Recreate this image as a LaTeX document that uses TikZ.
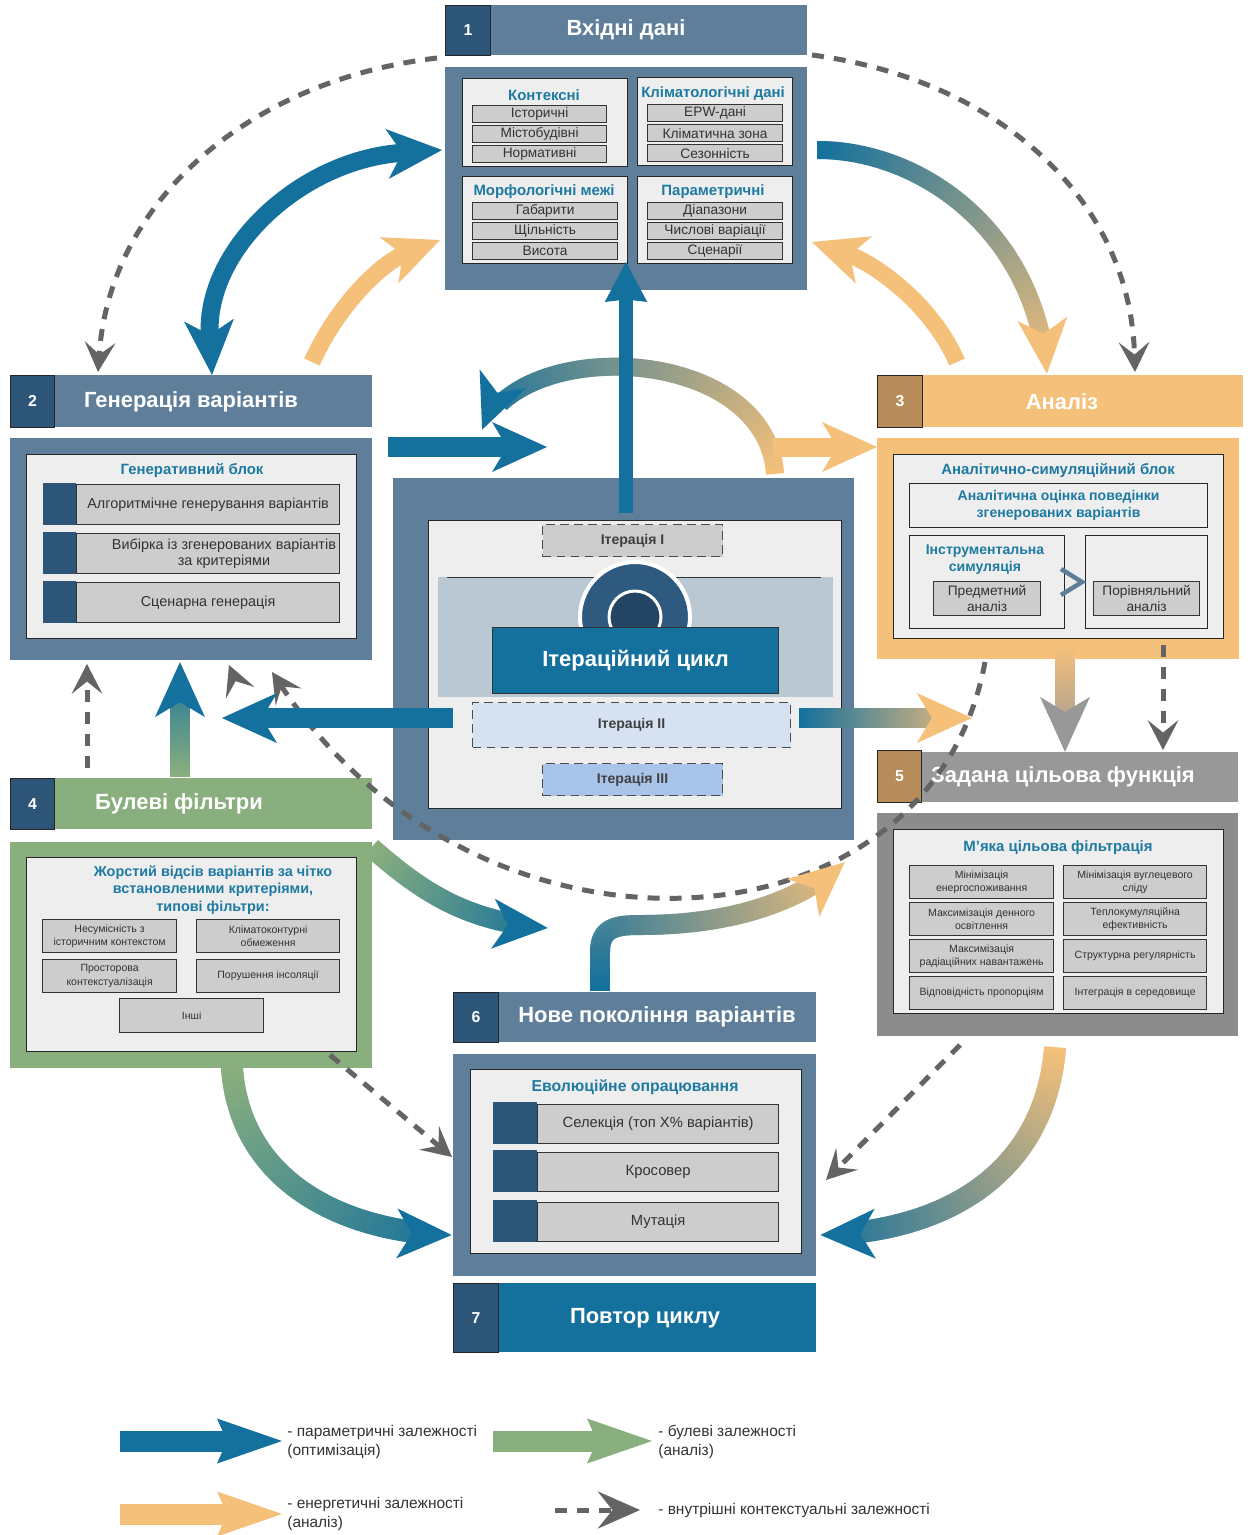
\documentclass[tikz,border=0pt]{standalone}
\usepackage{fontspec}
\setmainfont{Liberation Sans}
\usetikzlibrary{arrows.meta, decorations.markings}
\definecolor{steel}{RGB}{94,126,154}
\definecolor{navybox}{RGB}{45,85,120}
\definecolor{tealblue}{RGB}{20,112,156}
\definecolor{eorange}{RGB}{245,192,122}
\definecolor{tanbox}{RGB}{184,140,90}
\definecolor{bgreen}{RGB}{138,175,126}
\definecolor{fgray}{RGB}{152,152,152}
\definecolor{panelgray}{RGB}{238,238,238}
\definecolor{itemgray}{RGB}{205,205,205}
\definecolor{titleblue}{RGB}{30,122,162}
\definecolor{bandgray}{RGB}{186,200,212}
\definecolor{iterone}{RGB}{204,204,204}
\definecolor{itertwo}{RGB}{214,226,242}
\definecolor{iterthree}{RGB}{168,196,232}
\definecolor{ringdark}{RGB}{45,90,126}
\definecolor{coredark}{RGB}{35,68,98}
\definecolor{dashgray}{RGB}{100,100,100}
\tikzset{
  sz/.style 2 args={minimum width=#1*0.02cm, minimum height=#2*0.02cm},
  bar/.style={rectangle, inner sep=0pt, anchor=north west},
  numbox/.style={bar, draw=black!85, line width=0.5pt, text=white,
    font=\bfseries\fontsize{9}{9}\selectfont},
  hdrtext/.style={text=white, font=\bfseries\fontsize{12.5}{13}\selectfont},
  panel/.style={bar, draw=black!85, line width=0.7pt, fill=panelgray,
    text=titleblue, align=center, font=\bfseries\fontsize{8}{9.6}\selectfont},
  item/.style={bar, draw=black!80, line width=0.7pt, fill=itemgray, align=center,
    text=black!80, font=\fontsize{7.8}{9.2}\selectfont},
  smallitem/.style={item, font=\fontsize{6}{7.6}\selectfont},
  ptitle/.style={text=titleblue, align=center, font=\bfseries\fontsize{8.5}{9.6}\selectfont},
  sqr/.style={bar, fill=navybox},
  iterbox/.style={bar, draw=black!70, line width=0.6pt, dash pattern=on 5pt off 3pt,
    text=black!75, font=\bfseries\fontsize{8}{9}\selectfont},
  legend/.style={anchor=west, align=left, inner sep=0pt, text=black!80, font=\fontsize{8.8}{10.8}\selectfont},
  ptip/.tip={Stealth[length=1.1cm, width=1cm, inset=0.3cm, line width=0pt]},
  ltip/.tip={Stealth[length=1.3cm, width=0.9cm, inset=0.2cm, line width=0pt]},
  dtip/.tip={Stealth[length=0.6cm, width=0.62cm, inset=0.25cm, line width=0pt]},
  parrow/.style={draw=tealblue, line width=0.38cm, -ptip},
  earrow/.style={draw=eorange, line width=0.34cm, -ptip},
  dasharrow/.style={draw=dashgray, line width=0.1cm, dash pattern=on 0.24cm off 0.2cm, -dtip},
  gradarrow/.style n args={3}{
    postaction={decorate, decoration={markings,
      mark=between positions 0 and -20pt step 0.7pt with {
        \pgfmathtruncatemacro\gp{(\pgfkeysvalueof{/pgf/decoration/mark info/distance from start}/\pgfdecoratedpathlength)*100}
        \fill[#2!\gp!#1] (-0.5pt,-#3) rectangle (0.5pt,#3);}}},
    postaction={decorate, decoration={markings,
      mark=at position 0.999 with {\fill[#2] (0,0) -- (-1.1cm,0.5cm) -- (-0.8cm,0) -- (-1.1cm,-0.5cm) -- cycle;}}}
  }
}
\begin{document}
\begin{tikzpicture}[x=0.02cm, y=-0.02cm]
  \fill[white] (0,0) rectangle (1250,1535);
  \useasboundingbox (0,0) rectangle (1250,1535);

  % 1 - inputs
  \node[bar, fill=steel, sz={362}{50}] (h1) at (445,5) {};
  \node[numbox, fill=navybox, sz={45}{50}] (n1) at (445,5) {1};
  \node[hdrtext] (t1) at (626,30) {Вхідні дані};
  \node[bar, fill=steel, sz={362}{223}] (b1) at (445,67) {};
  \node[panel, sz={165}{88}] (p11) at (462,78) {};
  \node[panel, sz={155}{88}] (p12) at (637,77) {};
  \node[panel, sz={165}{87}] (p13) at (462,176) {};
  \node[panel, sz={155}{87}] (p14) at (637,176) {};
  \node[ptitle] (p11t) at (544,95) {Контексні};
  \node[ptitle] (p12t) at (713,94) {Кліматологічні дані};
  \node[ptitle] (p13t) at (544,192) {Морфологічні межі};
  \node[ptitle] (p14t) at (713,192) {Параметричні};
  \foreach \txt [count=\i] in {Історичні, Містобудівні, Нормативні}
    \node[item, sz={134}{17}] (k\i) at (472,{105+20*(\i-1)}) {\txt};
  \foreach \txt [count=\i] in {EPW-дані, Кліматична зона, Сезонність}
    \node[item, sz={135}{17}] (c\i) at (647,{104+20*(\i-1)}) {\txt};
  \foreach \txt [count=\i] in {Габарити, Щільність, Висота}
    \node[item, sz={145}{17}] (m\i) at (472,{202+20*(\i-1)}) {\txt};
  \foreach \txt [count=\i] in {Діапазони, Числові варіації, Сценарії}
    \node[item, sz={135}{17}] (r\i) at (647,{202+20*(\i-1)}) {\txt};

  % 2 - generation
  \node[bar, fill=steel, sz={362}{52}] (h2) at (10,375) {};
  \node[numbox, fill=navybox, sz={44}{52}] (n2) at (10,375) {2};
  \node[hdrtext] (t2) at (191,402) {Генерація варіантів};
  \node[bar, fill=steel, sz={362}{222}] (b2) at (10,438) {};
  \node[panel, sz={330}{184}] (p2) at (26,454) {};
  \node[ptitle] (p2t) at (192,470) {Генеративний блок};
  \foreach \txt [count=\i] in {Алгоритмічне генерування варіантів,
      {\hspace*{2.2em}Вибірка із згенерованих варіантів\\\hspace*{2.2em}за критеріями}, Сценарна генерація} {
    \node[item, sz={263}{40}, font=\fontsize{8.2}{9.4}\selectfont] (g\i) at (76,{484+49*(\i-1)}) {\txt};
    \node[sqr, sz={33}{42}] (gs\i) at (43,{483+49*(\i-1)}) {};
  }

  % 3 - analysis
  \node[bar, fill=eorange, sz={366}{52}] (h3) at (877,375) {};
  \node[numbox, fill=tanbox, sz={45}{52}] (n3) at (877,375) {3};
  \node[hdrtext] (t3) at (1062,402) {Аналіз};
  \node[bar, fill=eorange, sz={362}{221}] (b3) at (877,438) {};
  \node[panel, sz={330}{184}] (p3) at (893,454) {};
  \node[ptitle] (p3t) at (1058,470) {Аналітично-симуляційний блок};
  \node[panel, sz={298}{44}] (p3a) at (909,483) {Аналітична оцінка поведінки\\згенерованих варіантів};
  \node[panel, sz={155}{93}] (p3b) at (909,535) {};
  \node[ptitle, font=\bfseries\fontsize{8}{9.6}\selectfont] (p3bt) at (985,560) {Інструментальна\\симуляція};
  \node[item, sz={107}{34}] (p3b1) at (933,581) {Предметний\\аналіз};
  \node[panel, sz={122}{93}] (p3c) at (1085,535) {};
  \node[item, sz={106}{34}] (p3c1) at (1093,581) {Порівняльний\\аналіз};
  \draw[steel, line width=0.09cm] (1061,569) -- (1082,582) -- (1061,595);

  % centre - iteration cycle
  \node[bar, fill=steel, sz={461}{362}] (cb) at (393,478) {};
  \node[panel, sz={413}{288}] (cp) at (428,520) {};
  \node[iterbox, fill=iterone, sz={180}{32}] (it1) at (542,524) {Ітерація I};
  \node[bar, fill=bandgray, sz={395}{120}] (band) at (438,577) {};
  \draw[black!80, line width=0.5pt] (447,577) -- (821,577);
  \node[circle, fill=ringdark, draw=white, line width=0.08cm, minimum size=2.2cm, inner sep=0pt] (ring) at (635,617) {};
  \node[circle, fill=coredark, draw=white, line width=0.06cm, minimum size=1.04cm, inner sep=0pt] (core) at (635,617) {};
  \node[bar, fill=tealblue, draw=black!80, line width=0.6pt, sz={286}{66}, text=white,
    font=\bfseries\fontsize{12.5}{13}\selectfont] (cyc) at (492,627) {Ітераційний цикл};
  \node[iterbox, fill=itertwo, sz={318}{45}] (it2) at (472,702) {Ітерація II};
  \node[iterbox, fill=iterthree, sz={180}{32}] (it3) at (542,763) {Ітерація III};

  % 4 - boolean filters
  \node[bar, fill=bgreen, sz={362}{51}] (h4) at (10,778) {};
  \node[numbox, fill=navybox, sz={44}{51}] (n4) at (10,778) {4};
  \node[hdrtext] (t4) at (179,804) {Булеві фільтри};
  \node[bar, fill=bgreen, sz={362}{226}] (b4) at (10,842) {};
  \node[panel, sz={330}{194}] (p4) at (26,857) {};
  \node[ptitle, font=\bfseries\fontsize{8.2}{10}\selectfont] (p4t) at (213,890)
    {Жорстий відсів варіантів за чітко\\встановленими критеріями,\\типові фільтри:};
  \node[smallitem, sz={134}{33}] (f1) at (42,919) {Несумісність з\\історичним контекстом};
  \node[smallitem, sz={143}{33}] (f2) at (196,919) {Кліматоконтурні\\обмеження};
  \node[smallitem, sz={134}{33}] (f3) at (42,959) {Просторова\\контекстуалізація};
  \node[smallitem, sz={143}{33}] (f4) at (196,959) {Порушення інсоляції};
  \node[smallitem, sz={144}{34}] (f5) at (119,998) {Інші};

  % 5 - objective function
  \node[bar, fill=fgray, sz={361}{50}] (h5) at (877,752) {};
  \node[numbox, fill=tanbox, sz={44}{52}] (n5) at (877,750) {5};
  \node[hdrtext] (t5) at (1063,777) {Задана цільова функція};
  \node[bar, fill=fgray!92!black, sz={361}{223}] (b5) at (877,813) {};
  \node[panel, sz={330}{184}] (p5) at (893,829) {};
  \node[ptitle] (p5t) at (1058,848) {М\char39 яка цільова фільтрація};
  \foreach \lt/\rt [count=\i] in {
      {Мінімізація\\енергоспоживання}/{Мінімізація вуглецевого\\сліду},
      {Максимізація денного\\освітлення}/{Теплокумуляційна\\ефективність},
      {Максимізація\\радіаційних навантажень}/{Структурна регулярність},
      {Відповідність пропорціям}/{Інтеграція в середовище}} {
    \node[smallitem, sz={144}{33}] (sl\i) at (909,{865+37*(\i-1)}) {\lt};
    \node[smallitem, sz={143}{33}] (sr\i) at (1063,{865+37*(\i-1)}) {\rt};
  }

  % 6 - new generation
  \node[bar, fill=steel, sz={363}{50}] (h6) at (453,992) {};
  \node[numbox, fill=navybox, sz={45}{50}] (n6) at (453,992) {6};
  \node[hdrtext] (t6) at (657,1017) {Нове покоління варіантів};
  \node[bar, fill=steel, sz={363}{222}] (b6) at (453,1054) {};
  \node[panel, sz={331}{184}] (p6) at (470,1069) {};
  \node[ptitle, font=\bfseries\fontsize{9}{10}\selectfont] (p6t) at (635,1087) {Еволюційне опрацювання};
  \foreach \txt/\yy [count=\i] in {Селекція (топ X\% варіантів)/1102, Кросовер/1150, Мутація/1200} {
    \node[item, sz={241}{39}, font=\fontsize{8.4}{9.4}\selectfont] (e\i) at (537,\yy+2) {\txt};
    \node[sqr, sz={44}{42}] (es\i) at (493,\yy) {};
  }

  % 7 - repeat
  \node[bar, fill=tealblue, sz={363}{69}] (h7) at (453,1283) {};
  \node[numbox, fill=navybox, sz={45}{69}] (n7) at (453,1283) {7};
  \node[hdrtext] (t7) at (645,1318) {Повтор циклу};

  % connector ends
  \coordinate (a1) at (437,58);    \coordinate (a2) at (98,372);
  \coordinate (b1s) at (812,55);   \coordinate (b1e) at (1135,372);
  \coordinate (c1) at (212,375);   \coordinate (c2) at (442,150);
  \coordinate (d1) at (312,362);   \coordinate (d2) at (440,240);
  \coordinate (e1) at (818,150);   \coordinate (e2) at (1047,374);
  \coordinate (f1s) at (957,362);  \coordinate (f1e) at (812,242);
  \coordinate (g1) at (626,513);   \coordinate (g2) at (626,262);
  \coordinate (h1s) at (388,447);  \coordinate (h1e) at (547,447);
  \coordinate (i1) at (775,473);   \coordinate (i2) at (482,430);
  \coordinate (j1) at (773,447);   \coordinate (j2) at (877,447);
  \coordinate (k1s) at (453,718);  \coordinate (k1e) at (222,718);
  \coordinate (l1) at (800,718);   \coordinate (l2) at (972,718);
  \coordinate (m1s) at (985,662);  \coordinate (m1e) at (272,672);
  \coordinate (m2s) at (248,712);  \coordinate (m2e) at (229,665);
  \coordinate (n1s) at (87,768);   \coordinate (n1e) at (87,664);
  \coordinate (o1) at (180,776);   \coordinate (o2) at (180,662);
  \coordinate (q1) at (1065,645);  \coordinate (q2) at (1065,752);
  \coordinate (r1s) at (1163,645); \coordinate (r1e) at (1163,750);
  \coordinate (s1) at (372,848);   \coordinate (s2) at (548,928);
  \coordinate (u1) at (600,990);   \coordinate (u2) at (845,862);
  \coordinate (v1) at (232,1068);  \coordinate (v2) at (452,1235);
  \coordinate (w1) at (1055,1048); \coordinate (w2) at (820,1235);
  \coordinate (x1) at (330,1055);  \coordinate (x2) at (452,1157);
  \coordinate (y1) at (960,1045);  \coordinate (y2) at (826,1180);

  % dashed context links
  \draw[dasharrow] (a1) .. controls (250,80) and (110,200) .. (a2);
  \draw[dasharrow] (b1s) .. controls (1000,80) and (1130,200) .. (b1e);
  \draw[dasharrow] (m1s) .. controls (930,960) and (480,985) .. (m1e);
  \draw[dasharrow, dash pattern=on 0pt off 2cm] (m2s) -- (m2e);
  \draw[dasharrow] (n1s) -- (n1e);
  \draw[dasharrow] (r1s) -- (r1e);
  \draw[dasharrow] (x1) -- (x2);
  \draw[dasharrow] (y1) -- (y2);

  % parametric and energy links
  \draw[parrow, line width=0.36cm, ptip-ptip] (c1) .. controls (205,250) and (300,160) .. (c2);
  \draw[earrow] (d1) .. controls (340,300) and (385,262) .. (d2);
  \path[gradarrow={tealblue}{eorange}{0.18cm}] (e1) .. controls (920,150) and (1035,230) .. (e2);
  \draw[earrow] (f1s) .. controls (930,300) and (870,262) .. (f1e);
  \path[gradarrow={eorange}{tealblue}{0.18cm}] (i1) .. controls (765,345) and (520,335) .. (i2);
  \draw[parrow, line width=0.28cm, -{Stealth[length=0.8cm, width=0.85cm, inset=0.05cm, line width=0pt]}] (g1) -- (g2);
  \draw[parrow, line width=0.4cm] (h1s) -- (h1e);
  \draw[earrow, line width=0.38cm] (j1) -- (j2);
  \draw[parrow, line width=0.4cm] (k1s) -- (k1e);
  \path[gradarrow={tealblue}{eorange}{0.2cm}] (l1) -- (l2);
  \path[gradarrow={bgreen}{tealblue}{0.2cm}] (o1) -- (o2);
  \path[gradarrow={eorange}{fgray}{0.2cm}] (q1) -- (q2);
  \path[gradarrow={bgreen}{tealblue}{0.2cm}] (s1) .. controls (425,895) and (470,922) .. (s2);
  \path[gradarrow={tealblue}{eorange}{0.2cm}] (u1) -- (600,952) .. controls (600,928) and (615,925) .. (640,925)
    .. controls (725,925) and (795,905) .. (u2);
  \path[gradarrow={bgreen}{tealblue}{0.22cm}] (v1) .. controls (240,1180) and (340,1232) .. (v2);
  \path[gradarrow={eorange}{tealblue}{0.22cm}] (w1) .. controls (1045,1170) and (950,1232) .. (w2);

  % legend
  \coordinate (lg1s) at (120,1441); \coordinate (lg1e) at (282,1441);
  \coordinate (lg2s) at (493,1441); \coordinate (lg2e) at (652,1441);
  \coordinate (lg3s) at (120,1514); \coordinate (lg3e) at (282,1514);
  \coordinate (lg4s) at (555,1510); \coordinate (lg4e) at (640,1510);
  \draw[draw=tealblue, line width=0.42cm, -ltip] (lg1s) -- (lg1e);
  \draw[draw=bgreen, line width=0.42cm, -ltip] (lg2s) -- (lg2e);
  \draw[draw=eorange, line width=0.42cm, -ltip] (lg3s) -- (lg3e);
  \draw[dasharrow, -{Stealth[length=0.85cm, width=0.75cm, inset=0.3cm, line width=0pt]}] (lg4s) -- (lg4e);
  \node[legend] (lt1) at (287,1442) {- параметричні залежності\\(оптимізація)};
  \node[legend] (lt2) at (658,1442) {- булеві залежності\\(аналіз)};
  \node[legend] (lt3) at (287,1514) {- енергетичні залежності\\(аналіз)};
  \node[legend] (lt4) at (658,1510) {- внутрішні контекстуальні залежності};
\end{tikzpicture}
\end{document}
